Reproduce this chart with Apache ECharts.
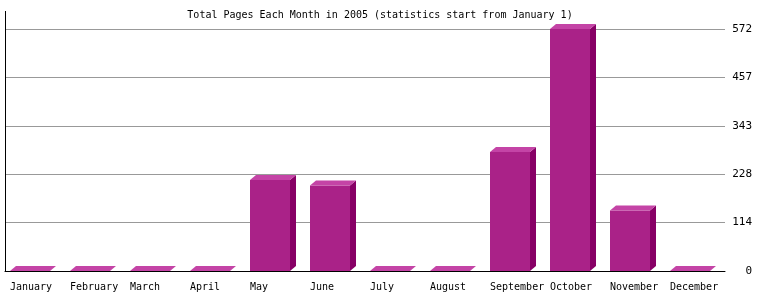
<!DOCTYPE html>
<html>
<head>
<meta charset="utf-8">
<script src="https://cdn.jsdelivr.net/npm/echarts@6/dist/echarts.min.js"></script>
<style>
html,body{margin:0;padding:0;background:#fff;}
#chart{width:760px;height:300px;}
</style>
</head>
<body>
<div id="chart"></div>
<script>
const titleText = 'Total Pages Each Month in 2005 (statistics start from January 1)';
const categories = ['January','February','March','April','May','June','July','August','September','October','November','December'];
const pages = [0, 0, 0, 0, 215, 202, 0, 0, 281, 572, 143, 0];
const yTicks = [0, 114, 228, 343, 457, 572];

const FONT = '"DejaVu Sans Mono", "Liberation Mono", monospace';
const chart = echarts.init(document.getElementById('chart'), null, {renderer: 'canvas'});

chart.setOption({
  backgroundColor: '#ffffff',
  animation: false,
  title: {
    text: titleText,
    left: 'center',
    top: 4,
    textStyle: {fontFamily: FONT, fontSize: 10, fontWeight: 'normal', color: '#000', lineHeight: 12}
  },
  grid: {left: 5, right: 35, top: 29, bottom: 29},
  xAxis: {
    type: 'category',
    data: categories,
    axisLine: {show: true, lineStyle: {color: '#000', width: 1}},
    axisTick: {show: false},
    axisLabel: {show: false},
    splitLine: {show: false}
  },
  yAxis: {
    type: 'value',
    position: 'right',
    min: 0,
    max: yTicks[yTicks.length - 1],
    interval: yTicks[yTicks.length - 1] / (yTicks.length - 1),
    axisLine: {show: false},
    axisTick: {show: false},
    splitLine: {show: true, lineStyle: {color: '#999999', width: 1}},
    axisLabel: {
      align: 'right',
      margin: 27,
      fontFamily: FONT,
      fontSize: 11,
      color: '#000',
      formatter: function (v, idx) { return String(yTicks[idx] !== undefined ? yTicks[idx] : Math.floor(v)); }
    }
  },
  graphic: [{
    type: 'line',
    shape: {x1: 5.5, y1: 11, x2: 5.5, y2: 271},
    style: {stroke: '#000', lineWidth: 1},
    z: 10
  }],
  series: [{
    type: 'custom',
    clip: false,
    data: pages.map(function (v, i) { return [i, v]; }),
    encode: {x: 0, y: 1},
    renderItem: function (params, api) {
      const idx = api.value(0);
      const v = api.value(1);
      const top = api.coord([idx, v]);
      const base = api.coord([idx, 0]);
      const bw = api.size([1, 0])[0];
      const l = Math.round(base[0] - bw * 25 / 60);
      const w = Math.round(bw * 40 / 60);
      const d = 6, dv = 5;
      const y0 = base[1], yt = top[1];
      const children = [];
      if (y0 - yt > 0.5) {
        children.push({
          type: 'rect',
          shape: {x: l, y: yt, width: w, height: y0 - yt},
          style: {fill: '#AA2288'}
        });
        children.push({
          type: 'polygon',
          shape: {points: [[l + w, yt], [l + w + d, yt - dv], [l + w + d, y0 - dv], [l + w, y0]]},
          style: {fill: '#880066'}
        });
      }
      children.push({
        type: 'polygon',
        shape: {points: [[l, yt], [l + w, yt], [l + w + d, yt - dv], [l + d, yt - dv]]},
        style: {fill: '#C444A6'}
      });
      children.push({
        type: 'text',
        style: {
          text: categories[idx],
          x: l,
          y: y0 + 16,
          align: 'left',
          verticalAlign: 'middle',
          font: '10px ' + FONT,
          fill: '#000'
        }
      });
      return {type: 'group', children: children};
    }
  }]
});
</script>
</body>
</html>
